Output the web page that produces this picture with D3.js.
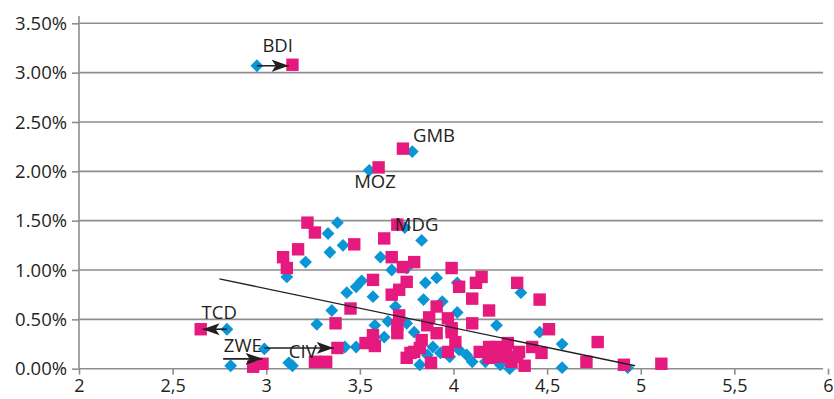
<!DOCTYPE html>
<html>
<head>
<meta charset="utf-8">
<script src="https://cdn.jsdelivr.net/npm/d3@7"></script>
<style>
  html, body { margin: 0; padding: 0; background: #ffffff; }
  svg { display: block; }
  text { font-family: "Open Sans", "DejaVu Sans", sans-serif; fill: #231f20; }
</style>
</head>
<body>
<svg id="chart" width="834" height="399"></svg>
<script>
// ---------- DATA ----------
const xTicks = [2, 2.5, 3, 3.5, 4, 4.5, 5, 5.5, 6];
const xTickLabels = ["2", "2,5", "3", "3,5", "4", "4,5", "5", "5,5", "6"];
const yTicks = [0, 0.5, 1, 1.5, 2, 2.5, 3, 3.5];
const yTickLabels = ["0.00%", "0.50%", "1.00%", "1.50%", "2.00%", "2.50%", "3.00%", "3.50%"];

// Series 1 (blue diamonds): [x, y in %]
const seriesBlue = [
  [2.95, 3.07], [3.55, 2.01], [3.78, 2.20], [3.74, 1.43], [3.83, 1.30],
  [2.79, 0.40], [2.99, 0.20], [2.81, 0.03], [3.12, 0.06], [3.14, 0.03],
  [3.33, 1.37], [3.38, 1.48], [3.34, 1.18], [3.41, 1.25], [3.21, 1.08],
  [3.11, 0.93], [3.43, 0.77], [3.48, 0.83], [3.51, 0.89], [3.57, 0.73],
  [3.35, 0.59], [3.27, 0.45], [3.42, 0.22], [3.48, 0.22], [3.58, 0.44],
  [3.63, 0.32], [3.61, 1.13], [3.67, 1.00], [3.75, 1.02], [3.69, 0.63],
  [3.65, 0.48], [3.75, 0.46], [3.79, 0.37], [3.82, 0.04], [3.85, 0.87],
  [3.91, 0.92], [4.02, 0.87], [3.84, 0.70], [3.94, 0.68], [4.02, 0.57],
  [4.23, 0.44], [4.36, 0.77], [4.46, 0.37], [4.58, 0.25], [4.58, 0.01],
  [4.93, 0.01], [3.89, 0.22], [3.93, 0.16], [3.98, 0.12], [4.03, 0.19],
  [4.07, 0.14], [4.10, 0.07], [4.17, 0.07], [4.25, 0.04], [4.30, 0.00],
  [3.86, 0.14]
];

// Series 2 (magenta squares): [x, y in %]
const seriesPink = [
  [3.14, 3.08], [3.60, 2.04], [3.73, 2.23], [3.70, 1.46], [2.65, 0.40],
  [2.93, 0.02], [2.98, 0.05], [3.38, 0.21], [3.26, 0.07], [3.32, 0.07],
  [3.22, 1.48], [3.26, 1.38], [3.17, 1.21], [3.09, 1.13], [3.11, 1.02],
  [3.47, 1.26], [3.57, 0.90], [3.45, 0.61], [3.37, 0.46], [3.53, 0.26],
  [3.57, 0.34], [3.58, 0.23], [3.63, 1.32], [3.67, 1.13], [3.73, 1.03],
  [3.79, 1.08], [3.67, 0.75], [3.71, 0.80], [3.75, 0.88], [3.71, 0.54],
  [3.70, 0.44], [3.70, 0.36], [3.75, 0.11], [3.79, 0.17], [3.99, 1.02],
  [4.03, 0.83], [4.12, 0.87], [4.15, 0.93], [4.34, 0.87], [4.46, 0.70],
  [4.19, 0.59], [4.10, 0.71], [3.91, 0.63], [3.97, 0.51], [4.10, 0.46],
  [4.51, 0.40], [4.77, 0.27], [4.71, 0.07], [4.91, 0.04], [5.11, 0.05],
  [4.29, 0.26], [4.42, 0.22], [4.47, 0.16], [4.35, 0.17], [4.38, 0.03],
  [4.31, 0.07], [4.19, 0.22], [4.14, 0.17], [4.19, 0.11], [3.97, 0.17],
  [4.01, 0.27], [3.99, 0.37], [3.88, 0.06], [3.91, 0.36], [3.86, 0.44],
  [3.87, 0.52], [3.83, 0.29], [3.82, 0.21], [3.77, 0.16], [4.23, 0.22],
  [4.34, 0.12], [4.28, 0.16], [4.25, 0.12], [3.99, 0.41]
];

// Linear trend line end points
const trendX = [2.75, 4.97];
const trendY = [0.91, 0.03];

// Arrows: [fromX, fromY, toX, toY]
const arrows = [
  [2.95, 3.07, 3.12, 3.07],   // BDI
  [2.79, 0.40, 2.66, 0.40],   // TCD
  [2.77, 0.10, 2.98, 0.10],   // ZWE
  [2.99, 0.21, 3.36, 0.21]    // CIV
];

// Country labels: name, centreX, baselineY (data units)
const labelNames = ["BDI", "GMB", "MOZ", "MDG", "TCD", "ZWE", "CIV"];
const labelX = [3.061, 3.896, 3.581, 3.803, 2.749, 2.875, 3.195];
const labelY = [3.209, 2.297, 1.831, 1.395, 0.504, 0.169, 0.108];

// ---------- CHART ----------
const svg = d3.select("#chart");
const x = d3.scaleLinear().domain([2, 6]).range([79, 828]);
const y = d3.scaleLinear().domain([0, 3.5]).range([368.7, 23.3]);
const gridRight = 823;
const gridColor = "#8e8e8e";
const blue = "#0a95d6";
const pink = "#e5197e";
const ink = "#231f20";

// gridlines
svg.append("g").selectAll("line").data(yTicks).join("line")
  .attr("x1", x(2)).attr("x2", gridRight)
  .attr("y1", d => y(d)).attr("y2", d => y(d))
  .attr("stroke", gridColor).attr("stroke-width", 1.6);

// y axis
const yAxis = d3.axisLeft(y).tickValues(yTicks)
  .tickFormat((d, i) => yTickLabels[i]).tickSize(7).tickPadding(5);
const gy = svg.append("g").attr("transform", `translate(${x(2)},0)`).call(yAxis);
gy.select(".domain").remove();
gy.selectAll(".tick line").attr("stroke", gridColor).attr("stroke-width", 1.6);
gy.selectAll(".tick text").attr("font-size", 18.5).attr("fill", ink)
  .attr("font-family", '"Open Sans", sans-serif').attr("dy", "0.34em");
svg.append("line").attr("x1", x(2)).attr("x2", x(2))
  .attr("y1", 16).attr("y2", y(0))
  .attr("stroke", gridColor).attr("stroke-width", 1.6);

// x axis
const xAxis = d3.axisBottom(x).tickValues(xTicks)
  .tickFormat((d, i) => xTickLabels[i]).tickSize(6).tickPadding(5);
const gx = svg.append("g").attr("transform", `translate(0,${y(0)})`).call(xAxis);
gx.select(".domain").remove();
gx.selectAll(".tick line").attr("stroke", gridColor).attr("stroke-width", 1.6);
gx.selectAll(".tick text").attr("font-size", 18).attr("fill", ink)
  .attr("font-family", '"Open Sans", sans-serif');

// blue diamonds
const dsz = 6.4;
svg.append("g").selectAll("path").data(seriesBlue).join("path")
  .attr("d", d => {
    const cx = x(d[0]), cy = y(d[1]);
    return `M${cx},${cy - dsz}L${cx + dsz},${cy}L${cx},${cy + dsz}L${cx - dsz},${cy}Z`;
  })
  .attr("fill", blue);

// magenta squares
const ssz = 12.4;
svg.append("g").selectAll("rect").data(seriesPink).join("rect")
  .attr("x", d => x(d[0]) - ssz / 2).attr("y", d => y(d[1]) - ssz / 2)
  .attr("width", ssz).attr("height", ssz)
  .attr("fill", pink);

// trend line
svg.append("line")
  .attr("x1", x(trendX[0])).attr("y1", y(trendY[0]))
  .attr("x2", x(trendX[1])).attr("y2", y(trendY[1]))
  .attr("stroke", ink).attr("stroke-width", 1.4);

// arrow marker
svg.append("defs").append("marker")
  .attr("id", "ah").attr("markerUnits", "userSpaceOnUse")
  .attr("markerWidth", 18).attr("markerHeight", 14)
  .attr("viewBox", "0 0 18 14").attr("refX", 17).attr("refY", 7)
  .attr("orient", "auto")
  .append("path").attr("d", "M0,1 L17,7 L0,13 L4,7 Z").attr("fill", ink);

svg.append("g").selectAll("line").data(arrows).join("line")
  .attr("x1", d => x(d[0])).attr("y1", d => y(d[1]))
  .attr("x2", d => x(d[2])).attr("y2", d => y(d[3]))
  .attr("stroke", ink).attr("stroke-width", 1.7)
  .attr("marker-end", "url(#ah)");

// country labels
svg.append("g").selectAll("text").data(labelNames).join("text")
  .attr("x", (d, i) => x(labelX[i])).attr("y", (d, i) => y(labelY[i]))
  .attr("text-anchor", "middle").attr("font-size", 18.5).attr("fill", ink)
  .text(d => d);
</script>
</body>
</html>
